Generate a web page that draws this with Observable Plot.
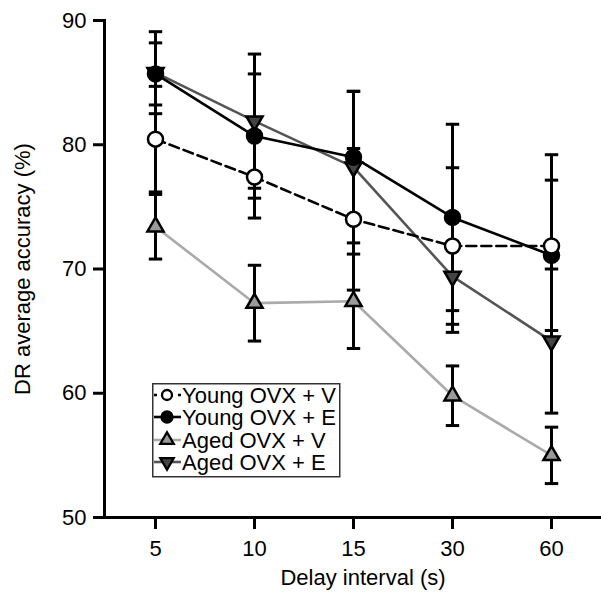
<!DOCTYPE html>
<html>
<head>
<meta charset="utf-8">
<script src="https://cdn.jsdelivr.net/npm/d3@7"></script>
<script src="https://cdn.jsdelivr.net/npm/@observablehq/plot@0.6"></script>
<style>
  body { margin: 0; background: #fff; }
  #wrap { position: relative; width: 601px; height: 594px; font-family: Arial, "Liberation Sans", sans-serif; }
  #legend { position: absolute; left: 152px; top: 383px; }
</style>
</head>
<body>
<div id="wrap"></div>
<script>
const delays = ["5", "10", "15", "30", "60"];
const yTicks = [50, 60, 70, 80, 90];
const seriesNames = ["Young OVX + V", "Young OVX + E", "Aged OVX + V", "Aged OVX + E"];

const youngV = [80.45, 77.4, 74.0, 71.85, 71.85];
const youngVErr = [4.25, 3.3, 5.7, 6.3, 7.35];
const youngE = [85.7, 80.7, 79.0, 74.15, 71.1];
const youngEErr = [2.5, 5.0, 5.3, 7.5, 6.05];
const agedV = [73.4, 67.25, 67.4, 59.8, 55.0];
const agedVErr = [2.6, 3.05, 3.8, 2.4, 2.27];
const agedE = [85.8, 81.9, 78.2, 69.4, 64.2];
const agedEErr = [3.3, 5.4, 6.1, 4.5, 5.8];

const means = [youngV, youngE, agedV, agedE];
const errs = [youngVErr, youngEErr, agedVErr, agedEErr];

// custom symbols
const triDown = {
  draw(ctx, size) {
    const y = -Math.sqrt(size / (3 * Math.sqrt(3)));
    ctx.moveTo(0, -y * 2);
    ctx.lineTo(-Math.sqrt(3) * y, y);
    ctx.lineTo(Math.sqrt(3) * y, y);
    ctx.closePath();
  }
};
const capSymbol = {
  draw(ctx, size) {
    const r = Math.sqrt(size / Math.PI);
    ctx.moveTo(-r, 0);
    ctx.lineTo(r, 0);
  }
};

const styles = [
  {line: "#000", dash: "10,5", symbol: "circle", fill: "#fff", r: 7.5, lsym: d3.symbolCircle, lsize: 5},
  {line: "#000", dash: null, symbol: "circle", fill: "#000", r: 7.5, lsym: d3.symbolCircle, lsize: 5.5},
  {line: "#aaaaaa", dash: null, symbol: "triangle", fill: "#999999", r: 6, lsym: d3.symbolTriangle, lsize: 5},
  {line: "#555555", dash: null, symbol: triDown, fill: "#444444", r: 6, lsym: triDown, lsize: 5}
];

const rows = [];
seriesNames.forEach((s, si) => {
  delays.forEach((d, i) => rows.push({series: s, si, delay: d, mean: means[si][i], err: errs[si][i]}));
});
const bySeries = si => rows.filter(r => r.si === si);

// draw order: Aged E, Aged V, Young E, Young V
const order = [3, 2, 1, 0];

const marks = [
  Plot.axisY({ticks: yTicks, tickSize: 11, tickPadding: 7, strokeWidth: 3, fontSize: 22, label: null}),
  Plot.axisX({tickSize: 12, tickPadding: 11, strokeWidth: 3, fontSize: 22, label: null}),
  Plot.frame({anchor: "left", strokeWidth: 3}),
  Plot.frame({anchor: "bottom", strokeWidth: 3}),
  Plot.text(["DR average accuracy (%)"], {frameAnchor: "left", textAnchor: "middle", rotate: -90, dx: -82, text: d => d, fontSize: 22}),
  Plot.text(["Delay interval (s)"], {frameAnchor: "bottom", textAnchor: "middle", dy: 67, dx: 10, text: d => d, fontSize: 22})
];
order.forEach(si => {
  const st = styles[si];
  marks.push(Plot.line(bySeries(si), {x: "delay", y: "mean", stroke: st.line, strokeWidth: 2.6, strokeDasharray: st.dash}));
});
marks.push(
  Plot.ruleX(rows, {x: "delay", y1: d => d.mean - d.err, y2: d => d.mean + d.err, stroke: "#000", strokeWidth: 3}),
  Plot.dot(rows, {x: "delay", y: d => d.mean + d.err, symbol: capSymbol, r: 6.7, stroke: "#000", strokeWidth: 3}),
  Plot.dot(rows, {x: "delay", y: d => d.mean - d.err, symbol: capSymbol, r: 6.7, stroke: "#000", strokeWidth: 3})
);
order.forEach(si => {
  const st = styles[si];
  marks.push(Plot.dot(bySeries(si), {x: "delay", y: "mean", symbol: st.symbol, r: st.r, fill: st.fill, stroke: "#000", strokeWidth: 2.5}));
});

const chart = Plot.plot({
  width: 601,
  height: 594,
  marginLeft: 104,
  marginRight: 0,
  marginTop: 20,
  marginBottom: 77,
  style: {fontFamily: 'Arial, "Liberation Sans", sans-serif', fontSize: "22px", color: "#000", background: "#fff", overflow: "visible"},
  x: {type: "point", domain: delays, padding: 0.5, label: null},
  y: {domain: [50, 90], label: null},
  marks
});
document.getElementById("wrap").appendChild(chart);

// legend
const lg = d3.select("#wrap").append("svg").attr("id", "legend")
  .attr("width", 190).attr("height", 96)
  .style("font-family", 'Arial, "Liberation Sans", sans-serif');
lg.append("rect").attr("x", 0.75).attr("y", 0.75).attr("width", 187).attr("height", 93)
  .attr("fill", "#fff").attr("stroke", "#333").attr("stroke-width", 1.5);
const rowY = [12, 34, 57, 79];
seriesNames.forEach((s, si) => {
  const st = styles[si];
  const g = lg.append("g").attr("transform", `translate(0,${rowY[si]})`);
  g.append("line").attr("x1", 2).attr("x2", 29).attr("y1", 0).attr("y2", 0)
    .attr("stroke", st.line).attr("stroke-width", 2.6)
    .attr("stroke-dasharray", si === 0 ? "3,5" : null);
  g.append("path").attr("transform", "translate(15,0)")
    .attr("d", d3.symbol(st.lsym, Math.PI * st.lsize * st.lsize)())
    .attr("fill", st.fill).attr("stroke", "#000").attr("stroke-width", 2.3);
  g.append("text").attr("x", 30).attr("y", 8).attr("font-size", 22).attr("fill", "#000").text(s);
});
</script>
</body>
</html>
